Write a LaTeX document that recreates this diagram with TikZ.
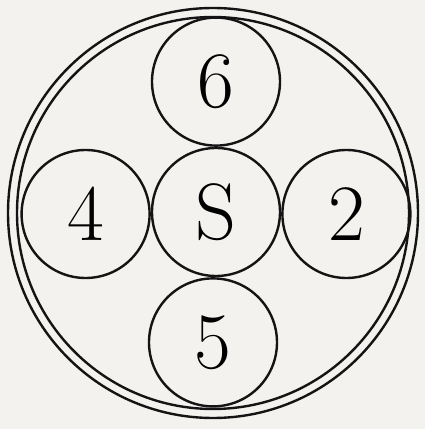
\documentclass[tikz,border=0pt]{standalone}
\usepackage{tikz}
\usetikzlibrary{positioning}
\definecolor{paper}{RGB}{244,242,239}
\definecolor{ink}{RGB}{20,20,20}

\begin{document}
\begin{tikzpicture}[x=1pt,y=1pt,line width=2.4pt,
    ring/.style={draw=ink,circle,minimum size=128pt,inner sep=0pt,
      font=\fontsize{80}{80}\selectfont}]
  % paper (fixes the margins)
  \fill[paper] (0,0) rectangle (425,429);
  \useasboundingbox (0,0) rectangle (425,429);
  % double outer ring
  \coordinate (mid) at (213,216);
  \draw[ink] (mid) circle[radius=205];
  \draw[ink] (mid) circle[radius=196];
  % the five small circles
  \node[ring] (s) at (216,217) {S};
  \node[ring,above=0pt of s] (six) {6};
  \node[ring,left=0pt of s,yshift=-2pt] (four) {4};
  \node[ring,right=0pt of s,yshift=-2pt] (two) {2};
  \node[ring,below=0pt of s,xshift=-3pt] (five) {5};
\end{tikzpicture}
\end{document}
